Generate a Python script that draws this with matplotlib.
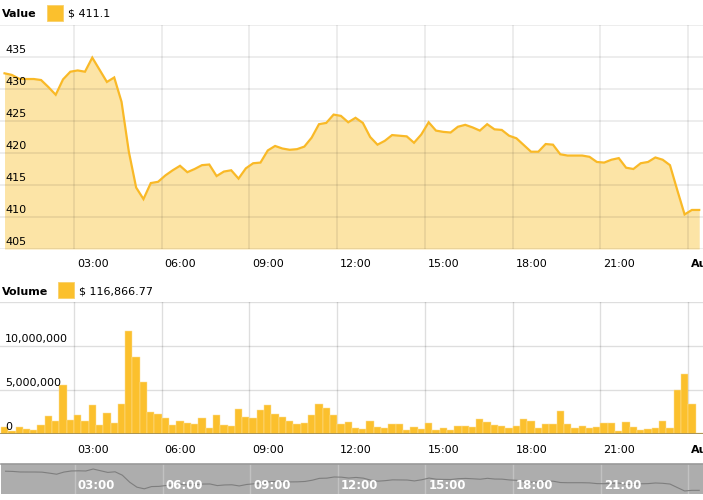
import matplotlib
matplotlib.use('Agg')
import matplotlib.pyplot as plt
import numpy as np
from matplotlib.transforms import blended_transform_factory, offset_copy
import matplotlib.patches as mpatches

# ---------------- data ----------------
price = [432.45, 432.2, 431.6, 431.56, 431.56, 431.4, 430.3, 429.1, 431.5, 432.7,
         432.9, 432.7, 434.9, 433.0, 431.1, 431.8, 428.0, 420.2, 414.6, 412.8,
         415.3, 415.5, 416.5, 417.3, 418.0, 417.0, 417.5, 418.1, 418.2, 416.4,
         417.1, 417.3, 416.0, 417.6, 418.4, 418.5, 420.4, 421.1, 420.7, 420.5,
         420.6, 421.0, 422.4, 424.5, 424.7, 426.0, 425.8, 424.8, 425.5, 424.7,
         422.5, 421.3, 421.9, 422.8, 422.7, 422.6, 421.6, 422.9, 424.8, 423.5,
         423.3, 423.2, 424.1, 424.4, 424.0, 423.5, 424.5, 423.7, 423.6, 422.7,
         422.3, 421.25, 420.2, 420.2, 421.4, 421.3, 419.8, 419.6, 419.6, 419.6,
         419.4, 418.6, 418.5, 418.95, 419.2, 417.7, 417.5, 418.4, 418.6, 419.3,
         418.95, 418.1, 414.2, 410.4, 411.1, 411.1]

volume_m = [0.80, 0.34, 0.80, 0.57, 0.45, 1.02, 2.05, 1.48, 5.57, 1.59,
            2.16, 1.48, 3.30, 1.02, 2.39, 1.25, 3.41, 11.70, 8.75, 5.91,
            2.50, 2.27, 1.82, 1.02, 1.48, 1.25, 1.14, 1.82, 0.68, 2.16,
            1.02, 0.91, 2.84, 1.93, 1.82, 2.73, 3.30, 2.27, 1.93, 1.48,
            1.14, 1.25, 2.16, 3.41, 2.95, 2.16, 1.14, 1.36, 0.68, 0.57,
            1.48, 0.80, 0.68, 1.14, 1.14, 0.45, 0.80, 0.57, 1.25, 0.45,
            0.68, 0.45, 0.91, 0.91, 0.80, 1.70, 1.36, 1.02, 0.91, 0.68,
            0.91, 1.70, 1.48, 0.68, 1.14, 1.14, 2.61, 1.14, 0.68, 0.91,
            0.68, 0.80, 1.25, 1.25, 0.34, 1.36, 0.80, 0.45, 0.57, 0.68,
            1.48, 0.68, 5.00, 6.82, 3.41, 0.116866]

start_hour = 0.625
step_hour = 0.25

x_tick_hours = [3, 6, 9, 12, 15, 18, 21, 24]
x_tick_labels = ['03:00', '06:00', '09:00', '12:00', '15:00', '18:00', '21:00', 'Aug']

price_ticks = [405, 410, 415, 420, 425, 430, 435]
vol_ticks = [0, 5_000_000, 10_000_000]
vol_tick_labels = ['0', '5,000,000', '10,000,000']

value_legend = '$ 411.1'
volume_legend = '$ 116,866.77'

# ---------------- styling ----------------
W, H = 703, 500
LINE = '#F9B927'
FILL = '#FCE4A6'
BAR = '#FBC02D'
BAR_EDGE = '#FCE09A'
FS = 8

plt.rcParams['font.family'] = ['DejaVu Sans']

fig = plt.figure(figsize=(W / 100, H / 100), dpi=100)
fig.patch.set_facecolor('white')


def px_axes(left, top, right, bottom):
    return fig.add_axes([left / W, 1 - bottom / H, (right - left) / W, (bottom - top) / H])


hours = start_hour + step_hour * np.arange(len(price))
volume = np.array(volume_m) * 1e6
xlim = (13.75 / 29.25, 716.75 / 29.25)


def style(ax):
    for s in ax.spines.values():
        s.set_visible(False)
    ax.tick_params(length=0, labelbottom=False, labelleft=False)
    ax.set_xlim(*xlim)
    ax.set_xticks(x_tick_hours)


def xlabels(ax, dy, color='black', bold_last=True, weight_all='normal'):
    tr = offset_copy(blended_transform_factory(ax.transData, ax.transAxes),
                     fig=fig, x=3, y=dy, units='dots')
    for h, lab in zip(x_tick_hours, x_tick_labels):
        w = 'bold' if (bold_last and lab == 'Aug') else weight_all
        ax.text(h, 0, lab, transform=tr, ha='left', va='center', fontsize=FS,
                color=color, fontweight=w, clip_on=False)


# ---------------- price panel ----------------
ax1 = px_axes(0, 25, 703, 249)
style(ax1)
ax1.set_ylim(405, 440)
ax1.set_yticks(price_ticks + [440])
ax1.fill_between(hours, price, 405, color=FILL, lw=0, zorder=1)
ax1.plot(hours, price, color=LINE, lw=1.6, zorder=3, solid_joinstyle='miter')
ax1.grid(True, color='black', alpha=0.09, lw=1.1, zorder=2)
ax1.set_axisbelow(False)
ytr = offset_copy(blended_transform_factory(ax1.transAxes, ax1.transData),
                  fig=fig, x=0, y=2, units='dots')
for v in price_ticks:
    ax1.text(5 / 703, v, str(v), transform=ytr, ha='left', va='bottom',
             fontsize=FS, color='black', zorder=4)
xlabels(ax1, -15)

# legend for value
fig.text(2 / W, 1 - 14 / H, 'Value', fontsize=FS, fontweight='bold', va='center', ha='left')
fig.patches.append(mpatches.Rectangle((47 / W, 1 - 21 / H), 16 / W, 16 / H,
                                      transform=fig.transFigure, facecolor=BAR,
                                      edgecolor='#F9D06A', lw=0.6))
fig.text(68 / W, 1 - 14 / H, value_legend, fontsize=FS, va='center', ha='left')

# ---------------- volume panel ----------------
ax2 = px_axes(0, 302, 703, 434)
style(ax2)
ax2.set_ylim(0, 15_000_000)
ax2.set_yticks(vol_ticks[1:] + [15_000_000])
ax2.bar(hours, volume, width=step_hour, color=BAR, edgecolor=BAR_EDGE, lw=0.35, zorder=2)
ax2.grid(True, color='black', alpha=0.13, lw=1.0, zorder=1)
ax2.set_axisbelow(True)
ax2.axhline(0, color='#9c8a55', lw=1.2, zorder=3)
ytr2 = offset_copy(blended_transform_factory(ax2.transAxes, ax2.transData),
                   fig=fig, x=0, y=2, units='dots')
for v, lab in zip(vol_ticks, vol_tick_labels):
    ax2.text(5 / 703, v, lab, transform=ytr2, ha='left', va='bottom',
             fontsize=FS, color='black', zorder=4)
xlabels(ax2, -16)

fig.text(2 / W, 1 - 292 / H, 'Volume', fontsize=FS, fontweight='bold', va='center', ha='left')
fig.patches.append(mpatches.Rectangle((58 / W, 1 - 298 / H), 16 / W, 16 / H,
                                      transform=fig.transFigure, facecolor=BAR,
                                      edgecolor='#F9D06A', lw=0.6))
fig.text(79 / W, 1 - 291 / H, volume_legend, fontsize=FS, va='center', ha='left')

# ---------------- navigator ----------------
ax3 = px_axes(1, 464, 703, 494)
style(ax3)
ax3.set_facecolor('#ADADAD')
ax3.set_ylim(407, 440.5)
ax3.set_yticks([])
ax3.grid(True, axis='x', color='#C2C2C2', lw=1.0, zorder=1)
ax3.set_axisbelow(True)
ax3.plot(hours, price, color='#7E7E7E', lw=0.8, zorder=2)
ax3.spines['top'].set_visible(True)
ax3.spines['top'].set_color('#999999')
ax3.spines['top'].set_linewidth(1.2)
tr3 = offset_copy(blended_transform_factory(ax3.transData, ax3.transAxes),
                  fig=fig, x=3, y=0, units='dots')
for h, lab in zip(x_tick_hours[:-1], x_tick_labels[:-1]):
    ax3.text(h, 0.27, lab, transform=tr3, ha='left', va='center', fontsize=FS + 0.5,
             color='white', fontweight='bold', zorder=4)

fig.savefig('out.png', dpi=100, facecolor='white')
